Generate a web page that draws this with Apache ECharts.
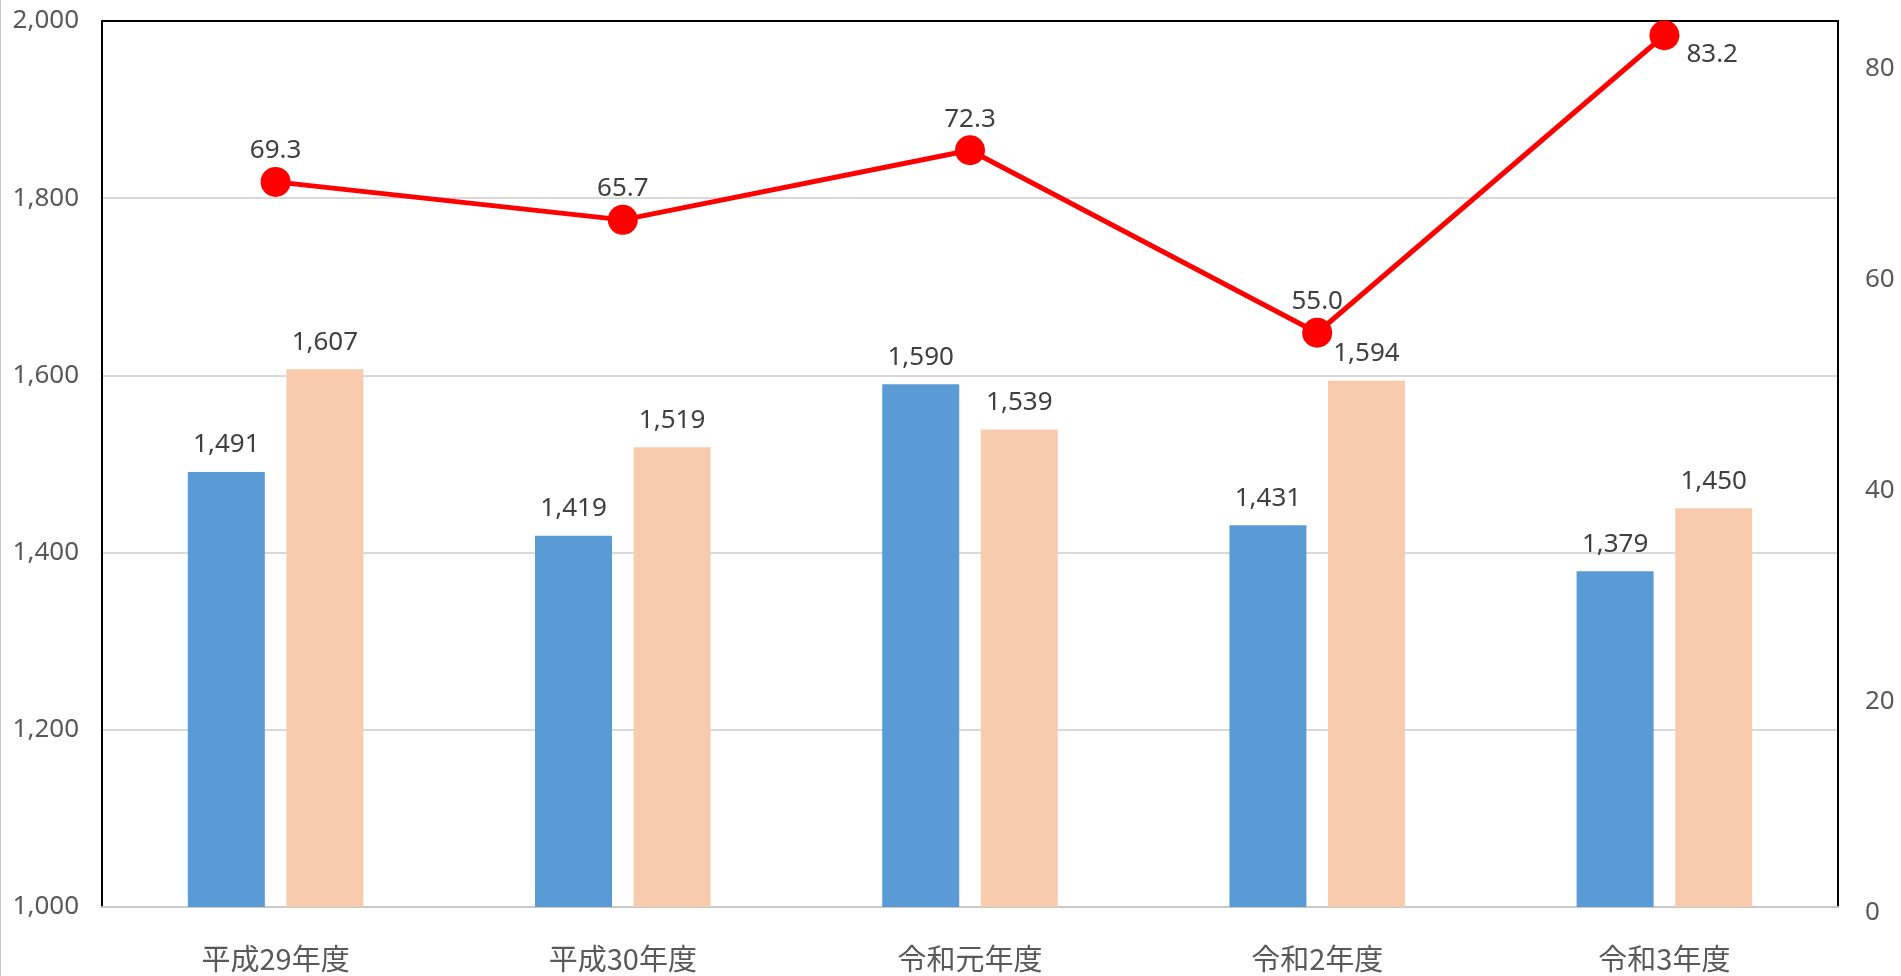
<!DOCTYPE html>
<html>
<head>
<meta charset="utf-8">
<style>
  html, body { margin: 0; padding: 0; background: #fff; }
  #chart { width: 1901px; height: 976px; }
</style>
<script src="https://cdn.jsdelivr.net/npm/echarts@6/dist/echarts.min.js"></script>
</head>
<body>
<div id="chart"></div>
<script>
// Fiscal years on the category axis
const categories = ['平成29年度', '平成30年度', '令和元年度', '令和2年度', '令和3年度'];
// Bar series (left axis)
const barBlue = [1491, 1419, 1590, 1431, 1379];
const barPeach = [1607, 1519, 1539, 1594, 1450];
// Line series (right axis)
const lineRed = [69.3, 65.7, 72.3, 55.0, 83.2];
// Axis ranges
const leftAxis = { min: 1000, max: 2000, interval: 200 };
const rightAxis = { min: 0, max: 84.55, interval: 20 };

const numFont = "'Noto Sans', 'Open Sans', sans-serif";
const cjkFont = "'Noto Sans CJK JP', 'Noto Sans', sans-serif";
const numSize = 26;

const fmtThousands = v => Number(v).toLocaleString('en-US');

const chart = echarts.init(document.getElementById('chart'), null, { renderer: 'canvas' });

chart.setOption({
  backgroundColor: '#ffffff',
  animation: false,
  // grid 0: bars and frame; grid 1: the secondary scale of the line,
  // whose zero sits a few pixels below the frame's bottom edge
  grid: [
    { left: 102, right: 63, top: 21, bottom: 69, containLabel: false },
    { left: 102, right: 63, top: 21, bottom: 63, containLabel: false }
  ],
  graphic: [{
    type: 'line',
    shape: { x1: 0.5, y1: 0, x2: 0.5, y2: 976 },
    style: { stroke: '#c8c8c8', lineWidth: 1 }
  }],
  xAxis: [{
    type: 'category',
    gridIndex: 0,
    data: categories,
    position: 'bottom',
    axisLine: { show: true, lineStyle: { color: '#c9c9c9', width: 2 } },
    axisTick: { show: false },
    axisLabel: { color: '#595959', fontSize: 29, fontFamily: cjkFont, margin: 37 }
  }, {
    type: 'category',
    gridIndex: 0,
    data: categories,
    position: 'top',
    axisLine: { show: true, lineStyle: { color: '#000', width: 2 } },
    axisTick: { show: false },
    axisLabel: { show: false }
  }, {
    type: 'category',
    gridIndex: 1,
    data: categories,
    show: false
  }],
  yAxis: [{
    type: 'value',
    gridIndex: 0,
    position: 'left',
    min: leftAxis.min, max: leftAxis.max, interval: leftAxis.interval,
    axisLine: { show: true, lineStyle: { color: '#000', width: 2 } },
    axisTick: { show: false },
    splitLine: { show: true, lineStyle: { color: '#d9d9d9', width: 2 } },
    axisLabel: { color: '#595959', fontSize: numSize, fontFamily: numFont, margin: 23, formatter: fmtThousands }
  }, {
    // right frame edge
    type: 'value',
    gridIndex: 0,
    position: 'right',
    min: 0, max: 1,
    axisLine: { show: true, lineStyle: { color: '#000', width: 2 } },
    axisTick: { show: false },
    splitLine: { show: false },
    axisLabel: { show: false }
  }, {
    type: 'value',
    gridIndex: 1,
    position: 'right',
    min: rightAxis.min, max: rightAxis.max, interval: rightAxis.interval,
    axisLine: { show: false },
    axisTick: { show: false },
    splitLine: { show: false },
    axisLabel: {
      color: '#595959', fontSize: numSize, fontFamily: numFont, margin: 27,
      formatter: v => (v % 20 === 0 ? String(v) : '')
    }
  }],
  series: [{
    type: 'bar',
    data: barBlue,
    xAxisIndex: 0, yAxisIndex: 0,
    barWidth: 77,
    barGap: '28%',
    itemStyle: { color: '#5b9bd5' },
    label: {
      show: true, position: 'top', distance: 14,
      color: '#404040', fontSize: numSize, fontFamily: numFont,
      formatter: p => fmtThousands(p.value)
    }
  }, {
    type: 'bar',
    data: barPeach,
    xAxisIndex: 0, yAxisIndex: 0,
    barWidth: 77,
    barGap: '28%',
    itemStyle: { color: '#f8cbad' },
    label: {
      show: true, position: 'top', distance: 14,
      color: '#404040', fontSize: numSize, fontFamily: numFont,
      formatter: p => fmtThousands(p.value)
    }
  }, {
    type: 'line',
    data: lineRed.map((v, i) => i === lineRed.length - 1
      ? { value: v, label: { position: 'right', distance: 7, offset: [0, 19] } }
      : v),
    xAxisIndex: 2, yAxisIndex: 2,
    symbol: 'circle',
    symbolSize: 30,
    lineStyle: { color: '#ff0000', width: 5 },
    itemStyle: { color: '#ff0000' },
    z: 5,
    label: {
      show: true, position: 'top', distance: 3,
      color: '#404040', fontSize: numSize, fontFamily: numFont,
      formatter: p => Number(p.value).toFixed(1)
    }
  }]
});
</script>
</body>
</html>
